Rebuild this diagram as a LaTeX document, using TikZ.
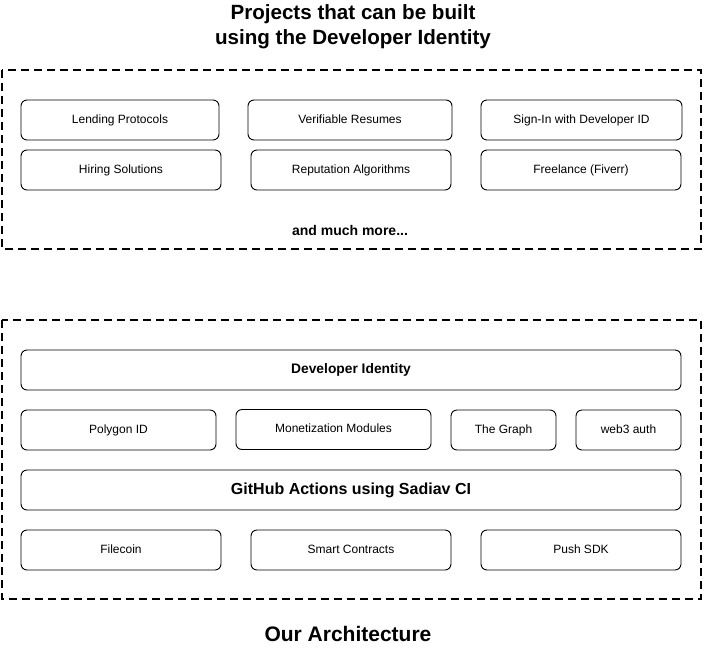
\documentclass[tikz,border=0pt]{standalone}
\usepackage{fontspec}
\setmainfont{Liberation Sans}
\usetikzlibrary{calc}

\tikzset{
    card/.style={draw, rounded corners=6pt, line width=0.9pt, inner sep=0pt,
        minimum height=40pt, text height=8.6pt, text depth=2.4pt,
        font=\fontsize{12}{14}\selectfont},
    group/.style={draw, line width=2.6pt, dash pattern=on 8pt off 5pt},
    heading/.style={font=\bfseries\fontsize{20.6}{25}\selectfont, align=center}
}

\begin{document}
\begin{tikzpicture}[x=1pt, y=-1pt]
    \useasboundingbox (0,0) rectangle (704,651);
    % projects
    \node[heading] (projtitle) at (353,27) {Projects that can be built\\using the Developer Identity};
    \draw[group] (2,70) rectangle (701,249);
    \node[card, minimum width=198pt] (lending) at (120,120) {Lending Protocols};
    \node[card, minimum width=204pt] (resumes) at (350,120) {Verifiable Resumes};
    \node[card, minimum width=201pt] (signin) at (581.5,120) {Sign-In with Developer ID};
    \node[card, minimum width=200pt] (hiring) at (121,170) {Hiring Solutions};
    \node[card, minimum width=200pt] (reputation) at (351,170) {Reputation Algorithms};
    \node[card, minimum width=200pt] (freelance) at (581,170) {Freelance (Fiverr)};
    \node[font=\bfseries\fontsize{14}{16}\selectfont] (more) at (350,230) {and much more...};
    % architecture
    \draw[group] (2,320) rectangle (701,599);
    \node[card, minimum width=660pt, font=\bfseries\fontsize{13.8}{16}\selectfont] (devid) at (351,370) {Developer Identity};
    \node[card, minimum width=195pt] (polygon) at (118.5,430) {Polygon ID};
    \node[card, minimum width=195pt] (monetize) at (333.5,429.5) {Monetization Modules};
    \node[card, minimum width=105pt] (graph) at (503.5,430) {The Graph};
    \node[card, minimum width=105pt] (webauth) at (628.5,430) {web3 auth};
    \node[card, minimum width=660pt, text height=11pt, text depth=3pt, font=\bfseries\fontsize{16}{19}\selectfont] (actions) at (351,490) {GitHub Actions using Sadiav CI};
    \node[card, minimum width=200pt] (filecoin) at (121,550) {Filecoin};
    \node[card, minimum width=200pt] (contracts) at (351,550) {Smart Contracts};
    \node[card, minimum width=200pt] (pushsdk) at (581,550) {Push SDK};
    \node[heading, font=\bfseries\fontsize{21}{25}\selectfont] (archtitle) at (348,634) {Our Architecture};
\end{tikzpicture}
\end{document}
